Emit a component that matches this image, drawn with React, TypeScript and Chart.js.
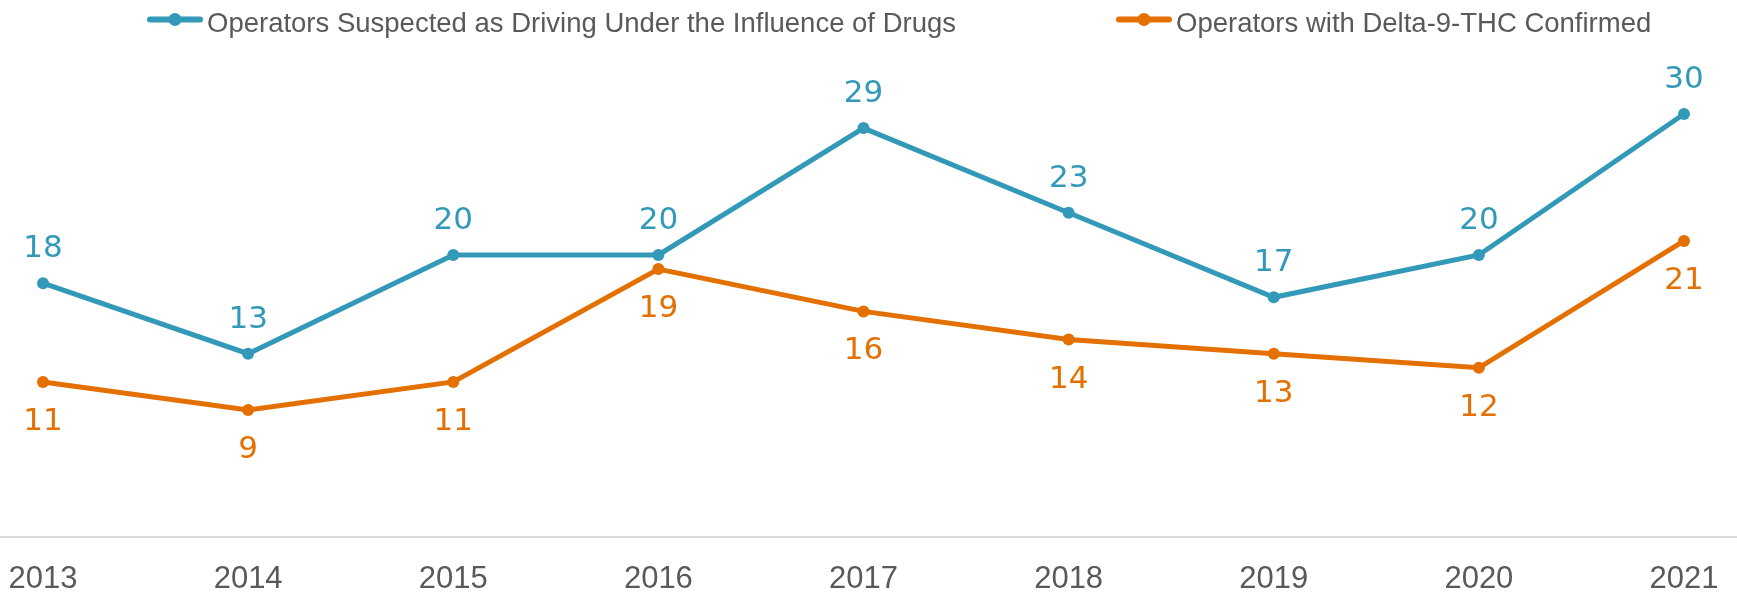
import React, { useEffect, useRef } from "react";
import { Chart, registerables } from "chart.js";

Chart.register(...registerables);

const years = ["2013", "2014", "2015", "2016", "2017", "2018", "2019", "2020", "2021"];
const suspectedDUID = [18, 13, 20, 20, 29, 23, 17, 20, 30];
const thcConfirmed = [11, 9, 11, 19, 16, 14, 13, 12, 21];
const seriesLabels = [
  "Operators Suspected as Driving Under the Influence of Drugs",
  "Operators with Delta-9-THC Confirmed",
];
const BLUE = "#3399B8";
const ORANGE = "#E37000";
const GRAY_TEXT = "#595959";

const axisLinePlugin = {
  id: "axisLine",
  beforeDatasetsDraw(chart: any) {
    const { ctx, scales } = chart;
    const y = scales.y.getPixelForValue(0);
    ctx.save();
    ctx.strokeStyle = "#D9D9D9";
    ctx.lineWidth = 2;
    ctx.beginPath();
    ctx.moveTo(0, y);
    ctx.lineTo(chart.width, y);
    ctx.stroke();
    ctx.restore();
  },
};

const dataLabelPlugin = {
  id: "dataLabels",
  afterDatasetsDraw(chart: any) {
    const { ctx } = chart;
    ctx.save();
    ctx.font = '31px "DejaVu Sans"';
    ctx.textAlign = "center";
    ctx.textBaseline = "middle";
    chart.data.datasets.forEach((ds: any, i: number) => {
      const meta = chart.getDatasetMeta(i);
      const offset = i === 0 ? -34 : 40;
      ctx.fillStyle = ds.borderColor;
      meta.data.forEach((pt: any, j: number) => {
        ctx.fillText(String(ds.data[j]), pt.x, pt.y + offset);
      });
    });
    ctx.restore();
  },
};

const customLegendPlugin = {
  id: "customLegend",
  afterDraw(chart: any) {
    const { ctx } = chart;
    ctx.save();
    ctx.font = '27.5px "Liberation Sans"';
    ctx.textBaseline = "alphabetic";
    let x = 147;
    const cy = 19.5;
    const markerW = 56;
    const gap = 160;
    chart.data.datasets.forEach((ds: any) => {
      ctx.strokeStyle = ds.borderColor;
      ctx.fillStyle = ds.borderColor;
      ctx.lineWidth = 6;
      ctx.lineCap = "round";
      ctx.beginPath();
      ctx.moveTo(x + 3, cy);
      ctx.lineTo(x + markerW - 3, cy);
      ctx.stroke();
      ctx.beginPath();
      ctx.arc(x + markerW / 2, cy, 6.5, 0, Math.PI * 2);
      ctx.fill();
      const tx = x + markerW + 4;
      ctx.fillStyle = GRAY_TEXT;
      ctx.fillText(ds.label, tx, 32);
      x = tx + ctx.measureText(ds.label).width + gap;
    });
    ctx.restore();
  },
};

export default function App() {
  const ref = useRef<HTMLCanvasElement>(null);
  useEffect(() => {
    document.body.style.margin = "0";
    const canvas = ref.current!;
    const chart = new Chart(canvas, {
      type: "line",
      data: {
        labels: years,
        datasets: [
          {
            label: seriesLabels[0],
            data: suspectedDUID,
            borderColor: BLUE,
            backgroundColor: BLUE,
            borderWidth: 5,
            pointRadius: 6,
            pointBorderWidth: 0,
            pointBackgroundColor: BLUE,
            tension: 0,
          },
          {
            label: seriesLabels[1],
            data: thcConfirmed,
            borderColor: ORANGE,
            backgroundColor: ORANGE,
            borderWidth: 5,
            pointRadius: 6,
            pointBorderWidth: 0,
            pointBackgroundColor: ORANGE,
            tension: 0,
          },
        ],
      },
      options: {
        responsive: false,
        animation: false,
        devicePixelRatio: 1,
        layout: { padding: { left: 43, right: 53, top: 43.5, bottom: 0 } },
        plugins: {
          legend: { display: false },
          tooltip: { enabled: false },
        },
        scales: {
          x: {
            offset: false,
            grid: { display: false, drawTicks: false },
            border: { display: false },
            ticks: {
              color: GRAY_TEXT,
              font: { family: '"Liberation Sans"', size: 31, lineHeight: 1 },
              padding: 26.5,
              maxRotation: 0,
              autoSkip: false,
            },
            afterFit(scale: any) {
              scale.paddingLeft = 0;
              scale.paddingRight = 0;
              scale.height = 57;
            },
          },
          y: {
            display: false,
            min: 0,
            max: 35,
          },
        },
      },
      plugins: [axisLinePlugin, dataLabelPlugin, customLegendPlugin],
    });
    return () => chart.destroy();
  }, []);
  return <canvas ref={ref} width={1737} height={594} style={{ display: "block" }} />;
}
